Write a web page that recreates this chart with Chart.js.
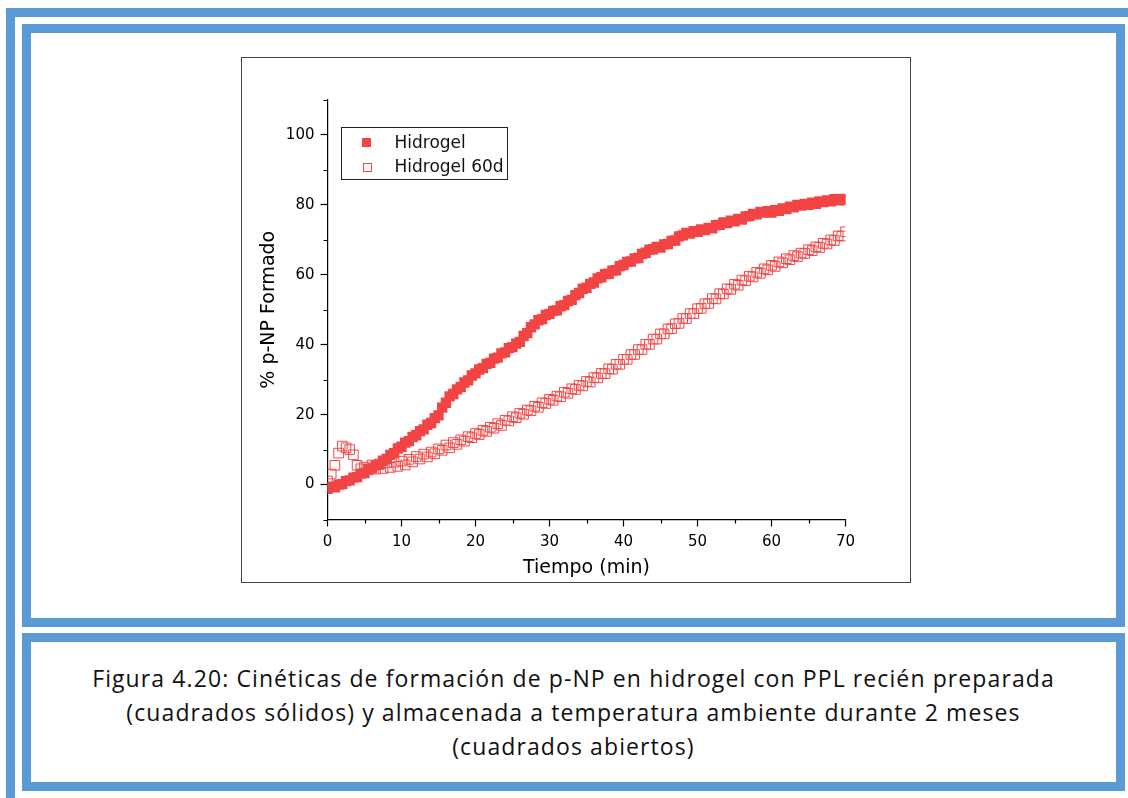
<!DOCTYPE html>
<html>
<head>
<meta charset="utf-8">
<script src="https://cdn.jsdelivr.net/npm/chart.js@4.4.1/dist/chart.umd.min.js"></script>
<style>
  body { margin: 0; width: 1128px; height: 798px; background: #fff; position: relative; overflow: hidden; }
  .frame { position: absolute; box-sizing: border-box; border-color: #5b9bd5; border-style: solid; }
  #outer { left: 6px; top: 8px; width: 1122px; height: 790px; border-width: 9px 0 0 9px; }
  #boxChart { left: 22px; top: 24px; width: 1103px; height: 603px; border-width: 9px; }
  #boxCaption { left: 22px; top: 633px; width: 1103px; height: 158px; border-width: 9px;
    display: flex; align-items: center; justify-content: center; }
  #caption { font-family: "Open Sans", sans-serif; font-size: 23px; letter-spacing: 1.1px; line-height: 34px; text-align: center; color: #111; white-space: nowrap; }
  #plotBox { position: absolute; left: 241px; top: 57px; width: 670px; height: 526px; box-sizing: border-box; border: 1px solid #444; background: #fff; }
  #chart { position: absolute; left: 0; top: 0; }
</style>
</head>
<body>
<div class="frame" id="outer"></div>
<div class="frame" id="boxChart"></div>
<div class="frame" id="boxCaption">
  <div id="caption">Figura 4.20: Cinéticas de formación de p-NP en hidrogel con PPL recién preparada<br>(cuadrados sólidos) y almacenada a temperatura ambiente durante 2 meses<br>(cuadrados abiertos)</div>
</div>
<div id="plotBox"><canvas id="chart" width="668" height="524"></canvas></div>
<script>
// time (min)
const tiempo = [
  0, 0.5, 1, 1.5, 2, 2.5, 3, 3.5, 4, 4.5, 5, 5.5, 6, 6.5, 7, 7.5, 8, 8.5, 9, 9.5,
  10, 10.5, 11, 11.5, 12, 12.5, 13, 13.5, 14, 14.5, 15, 15.5, 16, 16.5, 17, 17.5, 18, 18.5, 19, 19.5,
  20, 20.5, 21, 21.5, 22, 22.5, 23, 23.5, 24, 24.5, 25, 25.5, 26, 26.5, 27, 27.5, 28, 28.5, 29, 29.5,
  30, 30.5, 31, 31.5, 32, 32.5, 33, 33.5, 34, 34.5, 35, 35.5, 36, 36.5, 37, 37.5, 38, 38.5, 39, 39.5,
  40, 40.5, 41, 41.5, 42, 42.5, 43, 43.5, 44, 44.5, 45, 45.5, 46, 46.5, 47, 47.5, 48, 48.5, 49, 49.5,
  50, 50.5, 51, 51.5, 52, 52.5, 53, 53.5, 54, 54.5, 55, 55.5, 56, 56.5, 57, 57.5, 58, 58.5, 59, 59.5,
  60, 60.5, 61, 61.5, 62, 62.5, 63, 63.5, 64, 64.5, 65, 65.5, 66, 66.5, 67, 67.5, 68, 68.5, 69, 69.5,
  70
];

// % p-NP, fresh hydrogel
const hidrogel = [
  -1.2, -0.6, -0.8, 0.0, 0.1, 1.0, 1.2, 2.0, 2.1, 3.1, 3.3, 4.4, 4.6, 5.5, 5.7, 6.8, 7.3, 8.5, 9.0, 10.3,
  10.8, 12.0, 12.4, 13.6, 14.1, 15.3, 15.8, 17.1, 17.6, 19.0, 19.8, 22.0, 23.4, 25.2, 25.9, 27.2, 27.9, 29.2, 29.8, 31.2,
  31.8, 32.9, 33.3, 34.5, 34.8, 36.0, 36.3, 37.5, 37.8, 39.0, 39.3, 40.3, 40.8, 42.5, 43.3, 45.0, 45.8, 47.0, 47.3, 48.5,
  48.8, 49.7, 49.8, 51.0, 51.3, 52.5, 52.8, 54.2, 54.8, 56.0, 56.3, 57.4, 57.8, 59.0, 59.3, 60.2, 60.3, 61.2, 61.3, 62.5,
  62.8, 63.7, 63.8, 64.7, 64.8, 66.0, 66.3, 67.2, 67.3, 68.0, 67.8, 68.7, 68.8, 69.7, 69.8, 71.0, 71.3, 72.0, 71.8, 72.5,
  72.3, 73.0, 72.8, 73.4, 73.3, 74.2, 74.3, 75.0, 74.8, 75.5, 75.3, 76.0, 75.8, 76.7, 76.8, 77.4, 77.3, 78.0, 77.8, 78.2,
  77.8, 78.5, 78.3, 79.0, 78.8, 79.5, 79.3, 80.0, 79.8, 80.3, 80.0, 80.6, 80.3, 81.0, 80.8, 81.3, 81.0, 81.6, 81.3, 81.7,
  81.4
];

// % p-NP, hydrogel stored 60 days
const hidrogel60d = [
  1.0, 3.0, 5.5, 9.0, 11.0, 10.5, 10.0, 8.5, 5.5, 4.5, 5.0, 4.2, 5.6, 4.4, 5.9, 4.6, 6.2, 4.9, 6.4, 5.2,
  6.7, 5.6, 7.2, 6.5, 8.0, 7.3, 8.7, 7.9, 9.3, 8.8, 10.2, 9.8, 11.3, 10.5, 12.0, 11.5, 12.8, 12.4, 13.7, 13.4,
  14.6, 14.3, 15.5, 15.2, 16.4, 16.1, 17.4, 16.9, 18.4, 18.2, 19.4, 19.1, 20.4, 20.1, 21.3, 21.1, 22.4, 22.1, 23.4, 23.2,
  24.4, 24.1, 25.3, 25.1, 26.4, 26.1, 27.4, 27.2, 28.4, 28.2, 29.5, 29.3, 30.6, 30.5, 31.8, 31.7, 33.1, 33.0, 34.4, 34.4,
  35.8, 35.8, 37.2, 37.2, 38.6, 38.6, 40.1, 40.1, 41.6, 41.6, 43.1, 43.1, 44.5, 44.6, 46.0, 46.1, 47.5, 47.5, 48.9, 48.9,
  50.3, 50.4, 51.7, 51.8, 53.2, 53.1, 54.6, 54.5, 56.0, 55.8, 57.3, 57.0, 58.5, 58.3, 59.6, 59.4, 60.7, 60.4, 61.7, 61.4,
  62.7, 62.4, 63.7, 63.4, 64.6, 64.3, 65.5, 65.2, 66.2, 66.1, 67.2, 66.9, 68.0, 67.8, 69.0, 68.8, 70.0, 69.8, 71.1, 71.1,
  72.3
];

const xMajor = [0, 10, 20, 30, 40, 50, 60, 70];
const xMinor = [5, 15, 25, 35, 45, 55, 65];
const yMajor = [0, 20, 40, 60, 80, 100];
const yMinor = [-10, 10, 30, 50, 70, 90, 110];
const seriesLabels = ["Hidrogel", "Hidrogel 60d"];

const RED = "#f24444";
const FONT = "'DejaVu Sans', sans-serif";

const toPoints = (ys) => tiempo.map((t, i) => ({ x: t, y: ys[i] }));

// shorter unlabeled ticks between the labelled ones
const minorTicks = {
  id: "minorTicks",
  afterDraw(chart) {
    const { ctx, chartArea, scales } = chart;
    ctx.save();
    ctx.strokeStyle = "#000";
    ctx.lineWidth = 1.2;
    ctx.beginPath();
    xMinor.forEach((v) => {
      const px = Math.round(scales.x.getPixelForValue(v)) + 0.5;
      ctx.moveTo(px, chartArea.bottom);
      ctx.lineTo(px, chartArea.bottom + 4);
    });
    yMinor.forEach((v) => {
      const py = Math.round(scales.y.getPixelForValue(v)) + 0.5;
      ctx.moveTo(chartArea.left, py);
      ctx.lineTo(chartArea.left - 4, py);
    });
    ctx.stroke();
    ctx.restore();
  },
};

// framed legend in the upper left of the plot
const boxLegend = {
  id: "boxLegend",
  afterDraw(chart) {
    const { ctx } = chart;
    const bx = 99.5, by = 69.5, bw = 166, bh = 52;
    ctx.save();
    ctx.fillStyle = "#fff";
    ctx.fillRect(bx, by, bw, bh);
    ctx.strokeStyle = "#222";
    ctx.lineWidth = 1;
    ctx.strokeRect(bx, by, bw, bh);
    ctx.font = "17px " + FONT;
    ctx.textBaseline = "middle";
    chart.data.datasets.forEach((ds, i) => {
      const cy = by + 15 + i * 24.5;
      const cx = bx + 25;
      if (i === 0) {
        ctx.fillStyle = ds.backgroundColor;
        ctx.fillRect(cx - 4.5, cy - 4.5, 9, 9);
      } else {
        ctx.strokeStyle = ds.borderColor;
        ctx.strokeRect(Math.round(cx - 4) + 0.5, Math.round(cy - 4) + 0.5, 8, 8);
      }
      ctx.fillStyle = "#111";
      ctx.fillText(ds.label, bx + 53, cy + 1);
    });
    ctx.restore();
  },
};

const axisCommon = {
  type: "linear",
  border: { display: true, color: "#000", width: 1.2 },
  grid: { drawOnChartArea: false, drawTicks: true, tickLength: 7, tickColor: "#000", tickWidth: 1.2 },
  ticks: { color: "#000", font: { family: FONT, size: 15 } },
};

new Chart(document.getElementById("chart"), {
  type: "scatter",
  data: {
    datasets: [
      {
        label: seriesLabels[0],
        data: toPoints(hidrogel),
        pointStyle: "rect",
        pointRadius: 7.3,
        backgroundColor: RED,
        borderColor: RED,
        borderWidth: 0,
        clip: 0,
        order: 1,
      },
      {
        label: seriesLabels[1],
        data: toPoints(hidrogel60d),
        pointStyle: "rect",
        pointRadius: 6.8,
        backgroundColor: "rgba(255,255,255,0)",
        borderColor: "#f04848",
        borderWidth: 1,
        clip: 0,
        order: 0,
      },
    ],
  },
  options: {
    responsive: false,
    animation: false,
    events: [],
    layout: { padding: { left: 0, right: 64.5, top: 42, bottom: 0 } },
    plugins: { legend: { display: false }, tooltip: { enabled: false } },
    scales: {
      x: {
        ...axisCommon,
        min: 0,
        max: 70,
        afterBuildTicks: (scale) => { scale.ticks = xMajor.map((v) => ({ value: v })); },
        afterFit: (scale) => { scale.height = 62.5; },
        ticks: { ...axisCommon.ticks, padding: 7, maxRotation: 0 },
        title: { display: true, text: "Tiempo (min)", color: "#000", font: { family: FONT, size: 19 }, padding: { top: 0, bottom: 3 } },
      },
      y: {
        ...axisCommon,
        min: -10,
        max: 110,
        afterBuildTicks: (scale) => { scale.ticks = yMajor.map((v) => ({ value: v })); },
        afterFit: (scale) => { scale.width = 85.5; },
        ticks: { ...axisCommon.ticks, padding: 6 },
        title: { display: true, text: "% p-NP Formado", color: "#000", font: { family: FONT, size: 19 }, padding: { top: 16, bottom: 0 } },
      },
    },
  },
  plugins: [minorTicks, boxLegend],
});
</script>
</body>
</html>
